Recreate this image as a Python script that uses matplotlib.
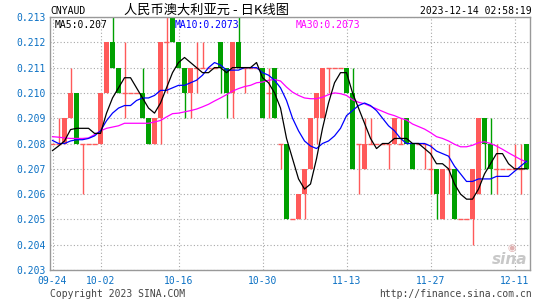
import matplotlib
matplotlib.use('Agg')
import matplotlib.pyplot as plt

# daily candles, 09-24 .. 12-13 (one candle per day)
opens = [0.208, 0.208, 0.208, 0.209, 0.210, 0.208, 0.208, 0.208, 0.208, 0.210,
         0.212, 0.211, 0.210, 0.210, 0.210, 0.210, 0.209, 0.208, 0.209, 0.212,
         0.213, 0.212, 0.211, 0.210, 0.211, 0.211, 0.211, 0.211, 0.212, 0.211,
         0.210, 0.212, 0.211, 0.211, 0.211, 0.211, 0.210, 0.211, 0.208, 0.208,
         0.205, 0.205, 0.206, 0.207, 0.209, 0.209, 0.211, 0.211, 0.211, 0.211,
         0.210, 0.208, 0.207, 0.208, 0.208, 0.208, 0.208, 0.208, 0.208, 0.209,
         0.208, 0.208, 0.208, 0.207, 0.207, 0.205, 0.207, 0.207, 0.205, 0.205,
         0.205, 0.206, 0.209, 0.208, 0.207, 0.207, 0.207, 0.207, 0.207, 0.208]
highs = [0.208, 0.209, 0.209, 0.211, 0.210, 0.208, 0.208, 0.208, 0.210, 0.212,
         0.213, 0.211, 0.212, 0.210, 0.210, 0.211, 0.209, 0.209, 0.212, 0.213,
         0.213, 0.212, 0.211, 0.211, 0.212, 0.212, 0.211, 0.211, 0.212, 0.211,
         0.212, 0.2135, 0.211, 0.211, 0.211, 0.211, 0.211, 0.211, 0.208, 0.208,
         0.205, 0.206, 0.207, 0.209, 0.210, 0.211, 0.211, 0.211, 0.211, 0.211,
         0.211, 0.208, 0.209, 0.209, 0.208, 0.208, 0.208, 0.209, 0.209, 0.209,
         0.208, 0.208, 0.208, 0.208, 0.207, 0.207, 0.208, 0.207, 0.205, 0.205,
         0.207, 0.209, 0.209, 0.209, 0.208, 0.207, 0.207, 0.208, 0.208, 0.208]
lows = [0.208, 0.208, 0.208, 0.209, 0.208, 0.206, 0.208, 0.208, 0.208, 0.210,
        0.211, 0.210, 0.209, 0.210, 0.210, 0.209, 0.208, 0.208, 0.208, 0.210,
        0.212, 0.211, 0.209, 0.209, 0.210, 0.211, 0.211, 0.211, 0.210, 0.209,
        0.209, 0.211, 0.210, 0.211, 0.211, 0.209, 0.209, 0.209, 0.207, 0.205,
        0.205, 0.205, 0.205, 0.207, 0.208, 0.209, 0.210, 0.211, 0.211, 0.210,
        0.207, 0.206, 0.207, 0.208, 0.208, 0.208, 0.207, 0.208, 0.208, 0.208,
        0.207, 0.208, 0.207, 0.206, 0.205, 0.205, 0.206, 0.205, 0.205, 0.205,
        0.204, 0.206, 0.207, 0.206, 0.206, 0.207, 0.207, 0.207, 0.206, 0.207]
closes = [0.208, 0.208, 0.209, 0.210, 0.208, 0.208, 0.208, 0.208, 0.210, 0.212,
          0.211, 0.210, 0.210, 0.210, 0.210, 0.209, 0.208, 0.209, 0.212, 0.212,
          0.212, 0.211, 0.210, 0.211, 0.211, 0.211, 0.211, 0.211, 0.211, 0.210,
          0.212, 0.211, 0.211, 0.211, 0.211, 0.209, 0.210, 0.209, 0.208, 0.205,
          0.205, 0.206, 0.207, 0.209, 0.210, 0.211, 0.211, 0.211, 0.211, 0.210,
          0.207, 0.208, 0.208, 0.208, 0.208, 0.208, 0.208, 0.209, 0.208, 0.208,
          0.207, 0.208, 0.208, 0.207, 0.206, 0.207, 0.207, 0.205, 0.205, 0.205,
          0.207, 0.209, 0.208, 0.207, 0.207, 0.207, 0.207, 0.207, 0.207, 0.207]

ma5 = [0.20772, 0.2079, 0.2081, 0.20855, 0.2086, 0.2086, 0.2086, 0.2084, 0.2084, 0.2092,
       0.2098, 0.2102, 0.2106, 0.2106, 0.2102, 0.2098, 0.2094, 0.2092, 0.2096, 0.2102,
       0.2108, 0.2112, 0.2114, 0.2112, 0.2110, 0.2108, 0.2108, 0.2110, 0.2110, 0.2108,
       0.2110, 0.2110, 0.2110, 0.2110, 0.2112, 0.2106, 0.2104, 0.2100, 0.2094, 0.2082,
       0.2074, 0.2066, 0.2062, 0.2064, 0.2074, 0.2086, 0.2096, 0.2104, 0.2108, 0.2108,
       0.2100, 0.2094, 0.2088, 0.2082, 0.2078, 0.2080, 0.2080, 0.2082, 0.2082, 0.2082,
       0.2080, 0.2080, 0.2078, 0.2076, 0.2072, 0.2072, 0.2070, 0.2064, 0.2060, 0.2058,
       0.2058, 0.2062, 0.2068, 0.2072, 0.2076, 0.2076, 0.2072, 0.2070, 0.2070, 0.2070]
ma10 = [0.20812, 0.2080, 0.2080, 0.2081, 0.20815, 0.20815, 0.2082, 0.2083, 0.2085, 0.2089,
        0.2092, 0.2094, 0.2095, 0.2095, 0.2097, 0.2098, 0.2098, 0.2099, 0.2101, 0.2101,
        0.2102, 0.2103, 0.2103, 0.2104, 0.2105, 0.2107, 0.2110, 0.2112, 0.2111, 0.2109,
        0.2109, 0.2109, 0.2110, 0.2110, 0.2110, 0.2108, 0.2107, 0.2105, 0.2102, 0.2097,
        0.2090, 0.2085, 0.2081, 0.2079, 0.2078, 0.2080, 0.2081, 0.2083, 0.2086, 0.2091,
        0.2093, 0.2095, 0.2096, 0.2095, 0.2093, 0.2090, 0.2087, 0.2085, 0.2082, 0.2080,
        0.2080, 0.2080, 0.2080, 0.2079, 0.2077, 0.2076, 0.2075, 0.2071, 0.2068, 0.2065,
        0.2065, 0.2066, 0.2066, 0.2066, 0.2067, 0.2067, 0.2067, 0.2069, 0.2071, 0.2073]
ma30 = [0.20827, 0.20825, 0.20822, 0.2082, 0.2082, 0.2082, 0.20822, 0.20835, 0.2085, 0.2086,
        0.20865, 0.2087, 0.2088, 0.2088, 0.2088, 0.2088, 0.2088, 0.20885, 0.20891, 0.20905,
        0.20918, 0.2092, 0.20925, 0.2093, 0.20936, 0.20945, 0.20955, 0.20968, 0.2098, 0.20993,
        0.21007, 0.21017, 0.21025, 0.2103, 0.2104, 0.21043, 0.2105, 0.21053, 0.21047, 0.21023,
        0.21003, 0.2099, 0.2098, 0.20977, 0.20977, 0.20983, 0.20993, 0.2100, 0.20997, 0.2099,
        0.20973, 0.20963, 0.20957, 0.20947, 0.20937, 0.20927, 0.20917, 0.2091, 0.2090, 0.20893,
        0.20877, 0.20867, 0.20857, 0.20843, 0.20827, 0.2082, 0.2081, 0.20797, 0.20787, 0.20787,
        0.20793, 0.20803, 0.20807, 0.2080, 0.2079, 0.20777, 0.20763, 0.2075, 0.20737, 0.20727]

tick_idx = [0, 8, 21, 35, 49, 63, 77]
tick_labels = ['09-24', '10-02', '10-16', '10-30', '11-13', '11-27', '12-11']
y_levels = [0.203, 0.204, 0.205, 0.206, 0.207, 0.208, 0.209, 0.210, 0.211, 0.212, 0.213]

RED = '#ff5a5a'
GREEN = '#00a000'
BLUE_TXT = '#0a70c4'
MONO = 'DejaVu Sans Mono'
CJK = ['Noto Sans CJK SC', 'DejaVu Sans']

fig = plt.figure(figsize=(5.45, 3.0), dpi=100)
W, H = 545, 300
ax = fig.add_axes([50 / W, 1 - 270 / H, 480 / W, 253 / H])

idx = list(range(len(closes)))
bw = 0.82
for i in idx:
    o, h, l, c = opens[i], highs[i], lows[i], closes[i]
    col = RED if c >= o else GREEN
    ax.vlines(i, l, h, color=col, lw=1, zorder=2)
    if abs(c - o) < 1e-9:
        ax.hlines(c, i - bw / 2, i + bw / 2, color=RED, lw=1, zorder=2)
    else:
        ax.bar(i, abs(c - o), bottom=min(o, c), width=bw, color=col,
               linewidth=0, zorder=2)

ax.plot(idx, ma30, color='#ff00ff', lw=0.9, zorder=3)
ax.plot(idx, ma10, color='#0000ff', lw=0.9, zorder=3)
ax.plot(idx, ma5, color='black', lw=0.9, zorder=4)

ax.set_xlim(-0.42, 79.58)
ax.set_ylim(0.203, 0.213)
ax.set_yticks(y_levels)
ax.set_yticklabels(['%.3f' % v for v in y_levels])
ax.set_xticks(tick_idx)
ax.set_xticklabels(tick_labels)
ax.tick_params(length=0, labelsize=7, labelcolor=BLUE_TXT)
ax.tick_params(axis='y', pad=3)
ax.tick_params(axis='x', pad=4)
for lab in ax.get_xticklabels() + ax.get_yticklabels():
    lab.set_family(MONO)
ax.grid(True, color='#a8a8a8', linestyle=(0, (1, 2)), lw=0.8, zorder=0)
for s in ax.spines.values():
    s.set_color('#999999')
    s.set_linewidth(1)

# header
fig.text(50 / W, 1 - 11 / H, 'CNYAUD', fontsize=7, family=MONO, va='center', ha='left')
fig.text(207 / W, 1 - 10 / H, '人民币澳大利亚元 - 日K线图', fontsize=9.5, family=CJK,
         va='center', ha='center')
fig.text(532 / W, 1 - 11 / H, '2023-12-14 02:58:19', fontsize=7, family=MONO,
         va='center', ha='right')
fig.text(55 / W, 1 - 25 / H, 'MA5:0.207', fontsize=7, family=MONO, va='center', color='black')
fig.text(175 / W, 1 - 25 / H, 'MA10:0.2073', fontsize=7, family=MONO, va='center', color='#0000ff')
fig.text(296 / W, 1 - 25 / H, 'MA30:0.2073', fontsize=7, family=MONO, va='center', color='#ff00ff')

# footer
fig.text(50 / W, 1 - 294 / H, 'Copyright 2023 SINA.COM', fontsize=7, family=MONO,
         va='center', ha='left', color='#444444')
fig.text(532 / W, 1 - 294 / H, 'http://finance.sina.com.cn', fontsize=7, family=MONO,
         va='center', ha='right', color='#444444')

# sina watermark
fig.text(527 / W, 1 - 259 / H, 'sina', fontsize=11, family='DejaVu Sans', style='italic',
         weight='bold', va='center', ha='right', color='#c8c8c8')
fig.text(512 / W, 1 - 248 / H, '◉', fontsize=7, family='DejaVu Sans',
         va='center', ha='center', color='#e0b0b0')

plt.savefig('out.png', dpi=100)
